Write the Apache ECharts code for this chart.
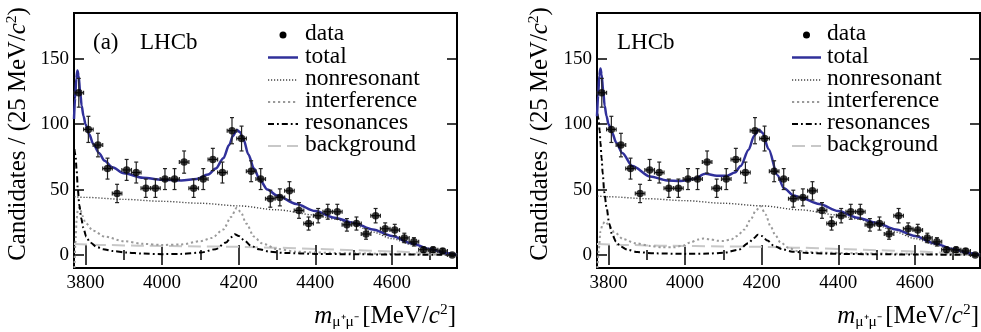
<!DOCTYPE html>
<html><head><meta charset="utf-8">
<script src="https://cdn.jsdelivr.net/npm/echarts@6/dist/echarts.min.js"></script>
<style>html,body{margin:0;padding:0;background:#fff}#c{width:981px;height:332px}</style>
</head><body><div id="c"></div>
<script>
// ---------- data ----------
const binCenters = [3782.5,3807.5,3832.5,3857.5,3882.5,3907.5,3932.5,3957.5,3982.5,4007.5,4032.5,4057.5,4082.5,4107.5,4132.5,4157.5,4182.5,4207.5,4232.5,4257.5,4282.5,4307.5,4332.5,4357.5,4382.5,4407.5,4432.5,4457.5,4482.5,4507.5,4532.5,4557.5,4582.5,4607.5,4632.5,4657.5,4682.5,4707.5,4732.5,4757.5];
const binHalfWidth = 12.5;
const counts = [124,96,84,66,47,65,63,51,51,58,58,71,51,58,73,63,95,89,64,58,43,44,49,34,24,30,33,33,23,24,16,30,20,19,13,10,4,4,3,0];
const countErrors = [11,10,9,8,7,8,8,7,7,8,8,8.5,7,8,8.5,8,10,9.5,8,8,6.5,6.5,7,6,5,5.5,5.7,5.7,4.8,5,4,5.5,4.5,4.4,3.6,3.2,2,2,1.7,1];

const xTicks = [3800,4000,4200,4400,4600];
const yTicks = [0,50,100,150];

// fit (a)
const totalAMass = [3770,3773,3776,3779,3782,3786,3790,3795,3800,3810,3820,3835,3850,3870,3900,3950,4000,4050,4090,4120,4140,4160,4175,4185,4195,4203,4213,4225,4240,4255,4275,4300,4350,4400,4450,4500,4550,4600,4650,4700,4740,4770];
const totalAVals = [104,120,135,141,137,125,114,106,100,92,85,78,72,67,62.5,59,57.5,57,58,61.5,66,74,84,91,95.5,94,88,77,66,57.5,50,45.5,39,33.5,28.5,24.5,19.5,14.5,9,4.5,1.5,0];
const nonresAMass = [3771,3800,3900,4000,4100,4200,4300,4400,4450,4500,4550,4600,4650,4700,4740,4770];
const nonresAVals = [44.5,44,42.5,41,39.5,37.5,34.5,30.5,27.5,23,17.5,12.5,8,3.8,1.2,0];
const interfAMass = [3771,3774,3777,3780,3785,3792,3800,3820,3850,3900,3950,4000,4050,4100,4130,4160,4180,4195,4205,4220,4240,4260,4300,4350,4400,4500,4600,4700,4770];
const interfAVals = [-10,10,28,35,36.5,30,24.5,18.5,14,10.5,8.5,7.6,8,10.5,13,19.5,29,36,33,24,14,9,4.5,2.5,1.8,1.2,0.8,0.4,0];
const resAMass = [3771,3774,3777,3780,3784,3789,3794,3802,3812,3830,3846,3870,3907,3950,4000,4050,4100,4140,4167,4180,4190,4200,4215,4232,4253,4280,4320,4400,4500,4600,4770];
const resAVals = [81,76,64,50,38,28,21,14,9.5,6,4.4,3,1.8,1,0.6,0.8,1.8,4.4,9.5,13.5,15.8,14.5,11,7,4.4,2.5,1.5,0.8,0.5,0.3,0];
const bkgMass = [3770,3850,3950,4100,4200,4300,4400,4500,4600,4700,4770];
const bkgVals = [8.3,7.6,7.0,6.5,6.2,5.5,4.6,3.6,2.6,1.5,0.8];

// fit (b)
const totalBMass = [3770,3773,3776,3779,3782,3786,3790,3795,3800,3810,3820,3836,3862,3909,3953,3988,4022,4053,4083,4110,4130,4145,4166,4180,4192,4202,4218,4241,4258,4284,4300,4350,4400,4450,4500,4550,4600,4650,4700,4740,4770];
const totalBVals = [106,122,137,142.5,138,126,114,106,100,93,86,78,68,60,57,56.5,58,62,60.5,60.5,63,68,80.5,91,95.8,93.5,81,61,51,45.5,44,39,33.5,28.5,24.5,19.5,14.5,9,4.5,1.5,0];
const nonresBMass = [3771,3800,3900,4000,4100,4200,4300,4400,4450,4500,4550,4600,4650,4700,4740,4770];
const nonresBVals = [45,44.5,43,41.5,39.5,37.5,34.5,30.5,27.5,23,17.5,12.5,8,3.8,1.2,0];
const interfBMass = [3771,3775,3779,3785,3792,3800,3815,3839,3870,3909,3940,3970,3995,4014,4035,4048,4065,4085,4100,4120,4136,4155,4171,4185,4197,4210,4223,4236,4249,4270,4293,4350,4450,4600,4770];
const interfBVals = [-10,5,18,24,25.5,23,17.5,12,9,6.9,5.8,5.8,7.2,9.6,11.8,12.5,12,10.8,10.7,11.8,14.5,19.5,27,34,37.4,31,22,15,9.6,5.5,3,1.8,1.2,0.8,0];
const resBMass = [3771,3774,3777,3779,3782,3785,3789,3795,3802,3809,3820,3831,3850,3875,3920,4000,4060,4100,4140,4165,4180,4190,4200,4215,4232,4253,4280,4320,4400,4500,4600,4770];
const resBVals = [108,104,95,86,74,62,48,36,24,16,10,6.5,4,2.2,1.2,0.8,1,1.6,4,9,13,15.5,14.5,11,7,4.4,2.5,1.5,0.8,0.5,0.3,0];

const legendNames = ['data','total','nonresonant','interference','resonances','background'];

// ---------- styles ----------
const FONT = 'Liberation Serif';
const styTotal = {color:'#30309a', width:2.5, type:'solid'};
const styNonres = {color:'#444', width:1.4, type:[1.2,1.8]};
const styInterf = {color:'#9a9a9a', width:2, type:[2.2,2.8]};
const styRes = {color:'#000', width:2, type:[6,3,1.8,3]};
const styBkg = {color:'#c8c8c8', width:2, type:[13,6]};

const panels = [
  {left:74, tag:'(a)', leg:{lineX1:268, lineX2:298, textX:305}, ytitleX:18,
   total:[totalAMass,totalAVals], nonres:[nonresAMass,nonresAVals], interf:[interfAMass,interfAVals], res:[resAMass,resAVals]},
  {left:597, tag:null, leg:{lineX1:792, lineX2:821, textX:827}, ytitleX:540,
   total:[totalBMass,totalBVals], nonres:[nonresBMass,nonresBVals], interf:[interfBMass,interfBVals], res:[resBMass,resBVals]}
];
const GTOP = 13, GW = 383, GH = 255;
const XMIN = 3770, XMAX = 4770, YMIN = -10, YMAX = 185;

const grids = [], xAxes = [], yAxes = [], series = [], graphics = [];
const tickStyle = {show:true, inside:true, length:10, lineStyle:{color:'#000', width:1.5}};
const minorStyle = {show:true, splitNumber:2, length:5, lineStyle:{color:'#000', width:1.5}};
const plain = v => String(v);

panels.forEach((p, gi) => {
  grids.push({left:p.left, top:GTOP, width:GW, height:GH, show:true, borderColor:'#000', borderWidth:2, backgroundColor:'transparent', outerBoundsMode:'none', containLabel:false});
  ['bottom','top'].forEach(pos => xAxes.push({
    type:'value', gridIndex:gi, position:pos, min:XMIN, max:XMAX, splitNumber:5,
    axisLine:{show:false}, splitLine:{show:false}, axisTick:tickStyle, minorTick:minorStyle,
    axisLabel:{show:pos==='bottom', formatter:plain, showMinLabel:false, showMaxLabel:false, fontFamily:FONT, fontSize:19, color:'#000', margin:6}
  }));
  ['left','right'].forEach(pos => yAxes.push({
    type:'value', gridIndex:gi, position:pos, min:YMIN, max:YMAX, splitNumber:4,
    axisLine:{show:false}, splitLine:{show:false}, axisTick:tickStyle,
    axisLabel:{show:pos==='left', formatter:plain, showMinLabel:false, showMaxLabel:false, fontFamily:FONT, fontSize:19, color:'#000', margin:5}
  }));
  const xi = gi*2, yi = gi*2;
  const mk = (name, arr, sty, z) => ({
    type:'line', name, xAxisIndex:xi, yAxisIndex:yi, z, silent:true, animation:false,
    data: arr[0].map((x,i)=>[x, arr[1][i]]), symbol:'none', showSymbol:false,
    smooth:0.3, smoothMonotone:'x', lineStyle:sty, clip:true
  });
  series.push(mk('background', [bkgMass,bkgVals], styBkg, 2));
  series.push(mk('interference', p.interf, styInterf, 3));
  series.push(mk('nonresonant', p.nonres, styNonres, 3));
  series.push(mk('resonances', p.res, styRes, 4));
  series.push(mk('total', p.total, styTotal, 5));
  series.push({
    type:'custom', name:'errors', xAxisIndex:xi, yAxisIndex:yi, z:6, silent:true, animation:false,
    encode:{x:0, y:1},
    data: binCenters.map((x,i)=>[x, counts[i], countErrors[i]]),
    renderItem(params, api){
      const x = api.value(0), y = api.value(1), e = api.value(2);
      const c = api.coord([x,y]), t = api.coord([x,y+e]), b = api.coord([x,y-e]);
      const l = api.coord([x-binHalfWidth,y]), r = api.coord([x+binHalfWidth,y]);
      const st = {stroke:'#222', lineWidth:1.2};
      const cap = 2;
      return {type:'group', children:[
        {type:'line', shape:{x1:c[0],y1:t[1],x2:c[0],y2:b[1]}, style:st},
        {type:'line', shape:{x1:c[0]-cap,y1:t[1],x2:c[0]+cap,y2:t[1]}, style:st},
        {type:'line', shape:{x1:c[0]-cap,y1:b[1],x2:c[0]+cap,y2:b[1]}, style:st},
        {type:'line', shape:{x1:l[0],y1:c[1],x2:r[0],y2:c[1]}, style:st},
        {type:'line', shape:{x1:l[0],y1:c[1]-cap,x2:l[0],y2:c[1]+cap}, style:st},
        {type:'line', shape:{x1:r[0],y1:c[1]-cap,x2:r[0],y2:c[1]+cap}, style:st}
      ]};
    }
  });
  series.push({
    type:'scatter', name:'data', xAxisIndex:xi, yAxisIndex:yi, z:7, silent:true, animation:false,
    symbol:'circle', symbolSize:7.5, itemStyle:{color:'#000'},
    data: binCenters.map((x,i)=>[x, counts[i]])
  });

  // legend
  const rowY = [35, 57.5, 80, 102, 124, 146];
  const legSty = [null, styTotal, styNonres, styInterf, styRes, styBkg];
  legendNames.forEach((nm, k) => {
    const y = rowY[k];
    if (k === 0) {
      graphics.push({type:'circle', shape:{cx:(p.leg.lineX1+p.leg.lineX2)/2, cy:y, r:3.5}, style:{fill:'#000'}, silent:true});
    } else {
      const s = legSty[k];
      graphics.push({type:'line', shape:{x1:p.leg.lineX1, y1:y, x2:p.leg.lineX2, y2:y},
        style:{stroke:s.color, lineWidth:s.width, lineDash: s.type==='solid'?null:s.type}, silent:true});
    }
    graphics.push({type:'text', x:p.leg.textX, y:y-1, silent:true,
      style:{text:nm, fontFamily:FONT, fontSize:23.5, lineHeight:19, fill:'#000', align:'left', verticalAlign:'middle'}});
  });
  const lab = (t, x) => graphics.push({type:'text', x, y:43, silent:true, style:{text:t, fontFamily:FONT, fontSize:23, lineHeight:20, fill:'#000', align:'left', verticalAlign:'middle'}});
  if (p.tag) { lab(p.tag, 93); lab('LHCb', 140); } else { lab('LHCb', 617); }
  // y title
  graphics.push({type:'text', x:p.ytitleX, y:134, rotation:Math.PI/2, silent:true,
    style:{text:'{t|Candidates / (25 MeV/}{i|c}{s|2}{t|)}', align:'center', verticalAlign:'middle', fill:'#000',
      rich:{t:{fontFamily:FONT, fontSize:24.8, lineHeight:28}, i:{fontFamily:FONT, fontSize:24.8, fontStyle:'italic', lineHeight:28},
            s:{fontFamily:FONT, fontSize:15.5, lineHeight:14, verticalAlign:'top'}}}});
  // x title
  graphics.push({type:'text', x:p.left+GW-1, y:316, silent:true,
    style:{text:'{i|m}{sub|μ⁺μ⁻} {t|[MeV/}{i|c}{s|2}{t|]}', align:'right', verticalAlign:'middle', fill:'#000',
      rich:{t:{fontFamily:FONT, fontSize:25, lineHeight:28}, i:{fontFamily:FONT, fontSize:25, fontStyle:'italic', lineHeight:28},
            sub:{fontFamily:FONT, fontSize:15.5, lineHeight:14, verticalAlign:'bottom'},
            s:{fontFamily:FONT, fontSize:15.5, lineHeight:14, verticalAlign:'top'}}}});
});

const chart = echarts.init(document.getElementById('c'), null, {renderer:'canvas'});
chart.setOption({
  animation:false, backgroundColor:'#fff',
  grid:grids, xAxis:xAxes, yAxis:yAxes, series, graphic:graphics
});
</script></body></html>
